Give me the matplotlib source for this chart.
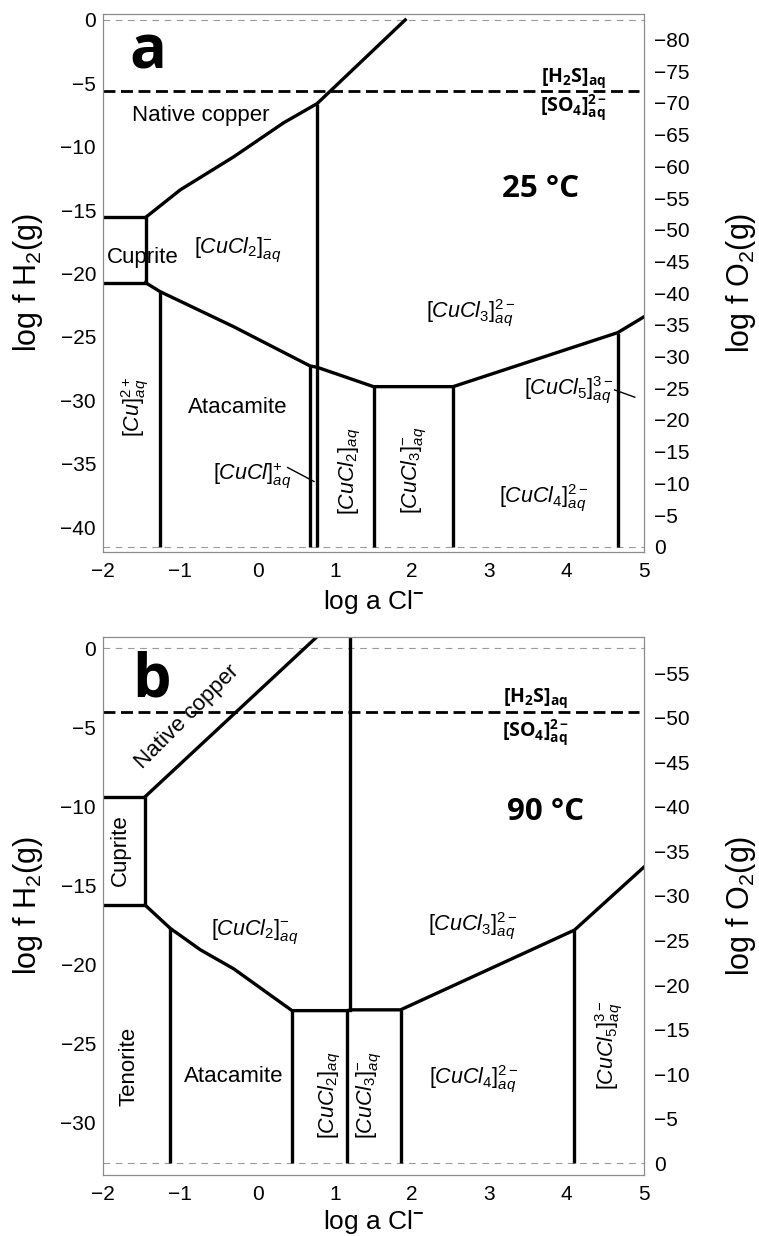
import numpy as np
import matplotlib.pyplot as plt

plt.rcParams['font.family'] = ['Liberation Sans', 'DejaVu Sans']
plt.rcParams['mathtext.fontset'] = 'custom'
plt.rcParams['mathtext.rm'] = 'Liberation Sans'
plt.rcParams['mathtext.it'] = 'Liberation Sans:italic'
plt.rcParams['mathtext.bf'] = 'Open Sans:bold'

# shared x axis (log a Cl-)
cl_ticks = [-2, -1, 0, 1, 2, 3, 4, 5]

# ---- panel a, 25 C ----
h2_ticks_25 = [0, -5, -10, -15, -20, -25, -30, -35, -40]
o2_ticks_25 = [-80, -75, -70, -65, -60, -55, -50, -45, -40,
               -35, -30, -25, -20, -15, -10, -5, 0]
water_top_25 = 0.0
water_bot_25 = -41.55
sulfur_25 = -5.58
cuprite_x_25 = [-2, -1.45, -1.45, -2]
cuprite_y_25 = [-15.58, -15.58, -20.72, -20.72]
upper_x_25 = [-1.45, -1.0, -0.31, 0.34, 0.77, 1.91]
upper_y_25 = [-15.58, -13.4, -10.8, -8.1, -6.6, 0.0]
lower_x_25 = [-1.45, -1.26, -0.31, 0.68, 0.77, 1.50, 2.53, 4.66, 5.0]
lower_y_25 = [-20.72, -21.43, -24.19, -27.29, -27.39, -28.92, -28.92,
              -24.66, -23.41]
vert_x_25 = [-1.26, 0.68, 0.77, 1.50, 2.53, 4.66]
vert_top_25 = [-21.43, -27.29, -6.6, -28.92, -28.92, -24.66]

# ---- panel b, 90 C ----
h2_ticks_90 = [0, -5, -10, -15, -20, -25, -30]
o2_ticks_90 = [-55, -50, -45, -40, -35, -30, -25, -20, -15, -10, -5, 0]
water_top_90 = 0.0
water_bot_90 = -32.6
sulfur_90 = -4.07
cuprite_x_90 = [-2, -1.455, -1.455, -2]
cuprite_y_90 = [-9.41, -9.41, -16.27, -16.27]
upper_x_90 = [-1.455, 0.77]
upper_y_90 = [-9.41, 0.72]
lower_x_90 = [-1.455, -1.13, -0.74, -0.31, 0.446, 1.16, 1.20, 1.85, 4.10, 5.0]
lower_y_90 = [-16.27, -17.74, -19.1, -20.3, -22.95, -22.95, -22.9, -22.9,
              -17.85, -13.86]
vert_x_90 = [-1.13, 0.446, 1.16, 1.85, 4.10]
vert_top_90 = [-17.74, -22.95, -22.95, -22.9, -17.85]
cucl2_x_90 = [1.20, 1.20]
cucl2_y_90 = [0.72, -22.9]

LW = 2.4
CHEM = 15.5
PLAIN = 16


def _setup_panel(ax, ylim, h2_ticks, o2_ticks, to_o2, to_h2,
                 water_top, water_bot, sulfur, xlabel_y):
    ax.set_xlim(-2, 5)
    ax.set_ylim(*ylim)
    ax.set_xticks(cl_ticks)
    ax.set_yticks(h2_ticks)
    for sp in ax.spines.values():
        sp.set_color('#8c8c8c')
        sp.set_linewidth(0.9)
    ax.tick_params(length=0, labelsize=15, pad=5)
    ax.tick_params(axis='x', pad=7)
    ax.set_xlabel(r'log a Cl$^{\mathbf{-}}$', fontsize=19)
    ax.xaxis.set_label_coords(0.5, xlabel_y)
    ax.set_ylabel(r'log f H$_2$(g)', fontsize=22)
    ax.yaxis.set_label_coords(-0.108, 0.5)
    # water stability limits
    for yv in (water_top, water_bot):
        ax.axhline(yv, color='#9a9a9a', lw=0.8, dashes=(6, 5))
    # H2S / SO4 boundary
    ax.plot([-2, 4.93], [sulfur, sulfur], color='k', lw=2, dashes=(4.3, 2))
    sec = ax.secondary_yaxis('right', functions=(to_o2, to_h2))
    sec.set_yticks(o2_ticks)
    sec.tick_params(length=0, labelsize=15, pad=7)
    sec.spines['right'].set_visible(False)
    # right-hand label placed in parent axes coords
    ax.text(1.148, 0.5, r'log f O$_2$(g)', fontsize=22, rotation=90,
            ha='left', va='center', transform=ax.transAxes)
    return sec


fig = plt.figure(figsize=(7.59, 12.36), dpi=100)

# ---------------- panel a ----------------
ax1 = fig.add_axes([0.1357, 0.5534, 0.7128, 0.4353])
_setup_panel(ax1, (-41.96, 0.47), h2_ticks_25, o2_ticks_25,
             lambda h: -2.0 * h - 83.1, lambda o: -(o + 83.1) / 2.0,
             water_top_25, water_bot_25, sulfur_25, -0.067)
ax1.plot(cuprite_x_25, cuprite_y_25, color='k', lw=LW, solid_joinstyle='miter')
ax1.plot(upper_x_25, upper_y_25, color='k', lw=LW)
ax1.plot(lower_x_25, lower_y_25, color='k', lw=LW)
ax1.vlines(vert_x_25, water_bot_25, vert_top_25, color='k', lw=LW)

ax1.text(-1.42, -2.6, 'a', fontsize=44, fontweight='bold',
         family='Open Sans', ha='center', va='center')
ax1.text(3.66, -13.3, '25 °C', fontsize=22.5, fontweight='bold',
         family='Open Sans', ha='center', va='center')
ax1.text(4.09, -4.6, r'$\mathbf{[H_2S]_{aq}}$', fontsize=14,
         ha='center', va='center')
ax1.text(4.09, -6.9, r'$\mathbf{[SO_4]^{2-}_{aq}}$', fontsize=14,
         ha='center', va='center')
ax1.text(-0.74, -7.5, 'Native copper', fontsize=PLAIN, ha='center', va='center')
ax1.text(-1.49, -18.7, 'Cuprite', fontsize=PLAIN, ha='center', va='center')
ax1.text(-0.26, -30.6, 'Atacamite', fontsize=PLAIN, ha='center', va='center')
ax1.text(-0.26, -18.1, r'$[CuCl_2]^{-}_{aq}$', fontsize=CHEM,
         ha='center', va='center')
ax1.text(2.76, -23.1, r'$[CuCl_3]^{2-}_{aq}$', fontsize=CHEM,
         ha='center', va='center')
ax1.text(-1.58, -30.5, r'$[Cu]^{2+}_{aq}$', fontsize=CHEM, rotation=90,
         ha='center', va='center')
ax1.text(-0.07, -35.9, r'$[CuCl]^{+}_{aq}$', fontsize=CHEM,
         ha='center', va='center')
ax1.plot([0.39, 0.73], [-35.3, -36.4], color='k', lw=1)
ax1.text(1.2, -35.6, r'$[CuCl_2]_{aq}$', fontsize=CHEM, rotation=90,
         ha='center', va='center')
ax1.text(2.02, -35.5, r'$[CuCl_3]^{-}_{aq}$', fontsize=CHEM, rotation=90,
         ha='center', va='center')
ax1.text(3.70, -37.7, r'$[CuCl_4]^{2-}_{aq}$', fontsize=CHEM,
         ha='center', va='center')
ax1.text(4.03, -29.2, r'$[CuCl_5]^{3-}_{aq}$', fontsize=CHEM,
         ha='center', va='center')
ax1.plot([4.62, 4.88], [-29.18, -29.75], color='k', lw=1)

# ---------------- panel b ----------------
ax2 = fig.add_axes([0.1357, 0.0494, 0.7128, 0.4355])
_setup_panel(ax2, (-33.35, 0.72), h2_ticks_90, o2_ticks_90,
             lambda h: -1.774 * h - 57.84, lambda o: -(o + 57.84) / 1.774,
             water_top_90, water_bot_90, sulfur_90, -0.062)
ax2.plot(cuprite_x_90, cuprite_y_90, color='k', lw=LW, solid_joinstyle='miter')
ax2.plot(upper_x_90, upper_y_90, color='k', lw=LW)
ax2.plot(lower_x_90, lower_y_90, color='k', lw=LW)
ax2.plot(cucl2_x_90, cucl2_y_90, color='k', lw=LW)
ax2.vlines(vert_x_90, water_bot_90, vert_top_90, color='k', lw=LW)

ax2.text(-1.37, -2.1, 'b', fontsize=44, fontweight='bold',
         family='Open Sans', ha='center', va='center')
ax2.text(3.73, -10.36, '90 °C', fontsize=22.5, fontweight='bold',
         family='Open Sans', ha='center', va='center')
ax2.text(3.60, -3.2, r'$\mathbf{[H_2S]_{aq}}$', fontsize=14,
         ha='center', va='center')
ax2.text(3.60, -5.3, r'$\mathbf{[SO_4]^{2-}_{aq}}$', fontsize=14,
         ha='center', va='center')
ax2.text(-0.915, -4.35, 'Native copper', fontsize=PLAIN, rotation=45,
         ha='center', va='center', rotation_mode='anchor')
ax2.text(-1.78, -12.8, 'Cuprite', fontsize=PLAIN, rotation=90,
         ha='center', va='center')
ax2.text(-1.67, -26.5, 'Tenorite', fontsize=PLAIN, rotation=90,
         ha='center', va='center')
ax2.text(-0.31, -27.1, 'Atacamite', fontsize=PLAIN, ha='center', va='center')
ax2.text(-0.03, -17.95, r'$[CuCl_2]^{-}_{aq}$', fontsize=CHEM,
         ha='center', va='center')
ax2.text(2.78, -17.6, r'$[CuCl_3]^{2-}_{aq}$', fontsize=CHEM,
         ha='center', va='center')
ax2.text(0.94, -28.3, r'$[CuCl_2]_{aq}$', fontsize=CHEM, rotation=90,
         ha='center', va='center')
ax2.text(1.44, -28.3, r'$[CuCl_3]^{-}_{aq}$', fontsize=CHEM, rotation=90,
         ha='center', va='center')
ax2.text(2.80, -27.3, r'$[CuCl_4]^{2-}_{aq}$', fontsize=CHEM,
         ha='center', va='center')
ax2.text(4.55, -25.1, r'$[CuCl_5]^{3-}_{aq}$', fontsize=CHEM, rotation=90,
         ha='center', va='center')

fig.savefig('out.png', dpi=100)
